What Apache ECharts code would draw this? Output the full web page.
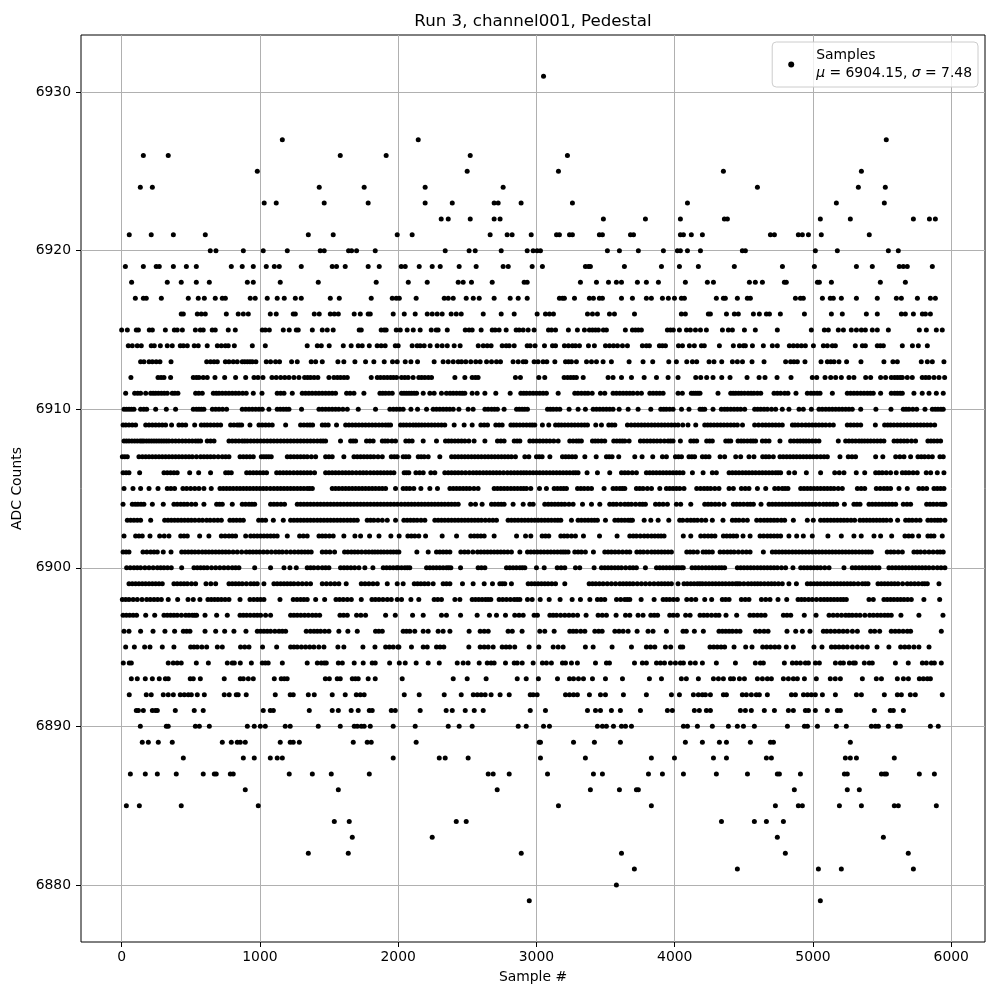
<!DOCTYPE html>
<html>
<head>
<meta charset="utf-8">
<title>Pedestal</title>
<script src="https://cdn.jsdelivr.net/npm/echarts@6/dist/echarts.min.js"></script>
<style>
    html, body { margin: 0; padding: 0; background: #fff; }
    #main { width: 1000px; height: 1000px; }
</style>
</head>
<body>
<div id="main"></div>
<script>
// sample numbers, one list per ADC level
const adc6931 = [3051];
const adc6927 = [1162,2145,5530];
const adc6926 = [157,337,1581,1913,2521,3224];
const adc6925 = [981,2499,3159,4352,5350];
const adc6924 = [135,222,1429,1754,2195,2759,4598,5328,5523];
const adc6923 = [1031,1118,1465,1783,2195,2391,2694,2723,2889,3260,4092,5169,5516];
const adc6922 = [2311,2362,2521,2694,2737,3484,3788,4041,4359,4381,5053,5270,5726,5842,5885];
const adc6921 = [55,214,374,605,1350,1530,1993,2101,2665,2788,2824,2962,3145,3166,3239,3260,3455,3477,3680,3702,4041,4063,4120,4200,4692,4721,4894,4923,4967,5060,5407];
const adc6920 = [641,682,880,1024,1198,1436,1465,1641,1663,1699,1834,2340,2513,2557,2745,2933,2976,3005,3029,3513,3600,3737,3918,4019,4041,4092,4186,4489,4511,5017,5176,5545,5617];
const adc6919 = [27,157,250,272,374,468,540,793,872,952,1046,1104,1140,1299,1523,1554,1617,1783,1863,2022,2051,2152,2246,2304,2441,2564,2759,2796,2969,3043,3354,3376,3390,3636,3904,4034,4171,4431,4779,5010,5314,5429,5624,5653,5682,5863];
const adc6918 = [72,330,431,540,634,909,952,1147,1422,1841,2073,2210,2434,2470,2530,2680,2911,2933,3318,3434,3521,3578,3615,3730,3795,3882,4077,4236,4280,4540,4583,4634,4793,4807,5032,5046,5133,5487,5668];
const adc6917 = [99,157,178,287,482,554,598,677,728,750,930,966,1053,1125,1176,1256,1299,1509,1574,1805,1957,1986,2008,2130,2333,2362,2398,2492,2543,2586,2694,2810,2868,2933,3166,3188,3202,3275,3383,3412,3455,3477,3615,3694,3795,3831,3911,3954,3998,4048,4070,4301,4352,4366,4453,4525,4547,4873,4909,4930,5068,5125,5147,5205,5314,5465,5603,5639,5755,5849,5885];
const adc6916 = [431,446,547,576,605,757,843,880,916,1075,1118,1241,1256,1393,1429,1509,1538,1567,1682,1726,1783,1798,1964,2044,2123,2210,2246,2282,2318,2383,2420,2456,2615,2745,2839,3005,3065,3094,3123,3369,3405,3441,3528,3564,3709,4048,4077,4243,4258,4374,4431,4460,4569,4612,4663,4685,4764,4938,5133,5212,5386,5465,5639,5668,5726,5791,5813,5849];
const adc6915 = [0,41,106,121,200,222,316,381,402,439,533,569,590,655,677,771,822,1017,1039,1068,1169,1212,1263,1277,1379,1451,1487,1530,1718,1733,1877,1899,1913,1986,2015,2065,2109,2159,2239,2275,2289,2355,2485,2513,2535,2600,2680,2701,2730,2781,2853,2875,2904,2940,2983,3087,3109,3138,3231,3296,3347,3383,3405,3427,3448,3484,3506,3643,3694,3716,3737,3759,3947,3969,3990,4034,4085,4113,4150,4186,4229,4345,4388,4417,4504,4583,4742,4988,5082,5111,5183,5220,5277,5314,5350,5379,5429,5465,5545,5769,5820,5892,5935];
const adc6914 = [48,77,113,142,214,236,280,330,366,424,446,475,525,554,619,692,721,750,771,815,945,1039,1342,1415,1444,1501,1603,1660,1711,1740,1791,1848,1877,1906,1979,2000,2101,2137,2159,2188,2231,2282,2318,2355,2405,2448,2579,2615,2644,2672,2752,2781,2803,2839,2933,2955,2990,3058,3116,3138,3202,3231,3260,3282,3311,3376,3419,3499,3528,3557,3586,3622,3658,3766,3795,3817,3889,3911,3933,4027,4056,4106,4142,4193,4214,4323,4424,4468,4497,4511,4562,4641,4706,4742,4829,4858,4887,4916,4945,5003,5075,5104,5140,5162,5306,5357,5379,5465,5487,5509,5646,5719,5762,5827];
const adc6913 = [137,161,198,222,250,277,357,615,643,668,692,750,776,807,836,872,890,909,928,945,971,1046,1077,1113,1142,1229,1270,1371,1403,1451,1564,1607,1687,1764,1824,1899,1959,1993,2051,2092,2140,2260,2325,2362,2398,2434,2458,2489,2525,2561,2593,2639,2675,2711,2740,2831,2868,2904,2923,2983,3012,3048,3075,3133,3210,3232,3253,3289,3362,3398,3434,3482,3542,3670,3771,3841,3957,4012,4087,4128,4159,4248,4284,4340,4417,4453,4490,4559,4646,4802,4838,4862,4887,4942,5058,5104,5128,5152,5188,5243,5347,5513,5578,5610,5783,5827,5863,5947];
const adc6912 = [67,263,285,306,354,518,540,559,590,619,675,745,824,897,957,986,1022,1087,1118,1150,1180,1210,1246,1282,1323,1345,1366,1392,1419,1499,1535,1560,1583,1608,1632,1805,1849,1872,1897,1921,1945,1966,1988,2024,2048,2072,2108,2149,2170,2193,2218,2241,2410,2482,2535,2558,2578,2848,2884,3017,3060,3200,3225,3248,3269,3289,3338,3518,3554,3615,3687,3779,3868,3952,4024,4152,4188,4231,4277,4340,4400,4523,4610,4653,4740,4841,4995,5027,5087,5128,5164,5205,5260,5296,5381,5417,5489,5525,5566,5590,5610,5630,5646,5682,5718,5790,5815,5839,5875,5911,5952];
const adc6911 = [29,94,116,137,174,210,228,246,266,287,308,330,366,385,407,535,558,583,663,684,704,728,752,776,800,824,848,875,901,952,1015,1125,1150,1174,1234,1306,1330,1354,1378,1403,1427,1451,1475,1499,1523,1547,1627,1652,1680,1752,1868,1888,1909,1933,1957,2024,2042,2060,2078,2096,2115,2133,2181,2229,2260,2313,2349,2375,2398,2422,2446,2464,2482,2535,2571,2627,2706,2810,2887,2908,2928,2952,2976,3000,3024,3048,3072,3157,3277,3300,3325,3350,3373,3403,3463,3494,3554,3578,3603,3627,3651,3675,3699,3730,3759,3820,3844,3868,3892,3916,4024,4055,4120,4136,4152,4168,4183,4313,4405,4423,4441,4462,4482,4505,4530,4552,4573,4598,4622,4718,4742,4766,4795,4819,4877,4959,4985,5007,5030,5051,5140,5248,5272,5296,5320,5345,5369,5393,5415,5436,5489,5566,5590,5610,5630,5646,5730,5790,5839,5892,5942];
const adc6910 = [17,35,53,71,89,137,160,181,246,323,390,518,540,559,577,595,656,680,704,730,759,872,897,921,945,969,993,1017,1065,1125,1147,1169,1190,1210,1301,1427,1451,1475,1499,1523,1547,1571,1600,1632,1711,1836,1940,1965,1988,2012,2036,2092,2140,2205,2253,2277,2301,2325,2349,2373,2398,2439,2506,2542,2627,2650,2675,2697,2718,2766,2856,2876,2896,2915,2935,3080,3100,3121,3145,3169,3236,3301,3354,3410,3434,3458,3482,3506,3530,3554,3598,3663,3735,3827,3899,3920,3940,3964,3988,4049,4103,4183,4200,4217,4277,4337,4360,4381,4405,4429,4453,4477,4506,4578,4600,4622,4646,4670,4700,4730,4778,4826,4899,4930,4988,5043,5067,5092,5116,5140,5164,5188,5212,5236,5260,5284,5345,5455,5564,5653,5673,5694,5722,5750,5810,5863,5884,5904,5925,5942];
const adc6909 = [10,30,53,77,101,174,198,222,246,270,294,318,361,414,438,463,528,576,598,619,643,668,692,716,788,812,836,852,868,928,993,1017,1041,1065,1089,1186,1294,1318,1342,1362,1381,1451,1472,1494,1554,1620,1644,1668,1692,1716,1740,1764,1788,1812,1836,1861,1885,1909,1928,1945,2017,2038,2060,2084,2108,2128,2149,2170,2193,2217,2241,2265,2289,2313,2337,2405,2477,2535,2598,2622,2646,2706,2730,2752,2815,2835,2856,2880,2904,2928,2952,2970,2988,3043,3089,3138,3160,3181,3205,3229,3253,3277,3301,3325,3348,3369,3429,3470,3523,3545,3567,3658,3685,3711,3735,3759,3783,3807,3832,3856,3880,3904,3928,3952,3976,4000,4024,4058,4096,4152,4217,4238,4260,4284,4308,4332,4356,4380,4405,4429,4453,4490,4578,4606,4634,4658,4682,4706,4730,4754,4778,4851,4870,4892,4920,4947,4971,4995,5019,5043,5067,5092,5120,5147,5248,5272,5296,5320,5345,5451,5518,5540,5561,5585,5610,5634,5658,5682,5706,5730,5754,5778,5802,5826,5851,5880];
const adc6908 = [17,35,53,74,94,113,133,147,161,180,198,216,234,252,270,288,306,324,342,366,390,414,439,463,487,511,535,553,571,619,643,668,776,800,824,848,872,890,909,933,957,981,1005,1029,1053,1077,1101,1125,1150,1174,1198,1222,1246,1270,1294,1318,1342,1366,1390,1415,1439,1457,1475,1583,1656,1674,1692,1771,1795,1819,1885,1905,1925,1955,1981,2055,2078,2101,2181,2277,2342,2364,2386,2410,2434,2458,2482,2511,2549,2627,2718,2742,2766,2839,2860,2880,2952,2976,3000,3024,3048,3072,3097,3125,3157,3241,3265,3289,3307,3325,3405,3425,3446,3470,3494,3559,3581,3603,3621,3639,3670,3752,3776,3800,3824,3848,3872,3897,3925,3952,3970,3988,4041,4116,4138,4159,4231,4252,4272,4369,4388,4405,4458,4480,4501,4525,4549,4567,4585,4634,4658,4682,4761,4838,4862,4887,4908,4930,4950,4971,4995,5019,5043,5183,5236,5260,5284,5308,5333,5353,5373,5395,5417,5441,5465,5489,5513,5586,5610,5634,5658,5682,5712,5742,5831,5853,5875,5899,5923];
const adc6907 = [5,23,41,125,150,174,198,222,246,270,294,318,342,366,390,414,438,463,487,511,541,571,595,619,643,668,698,728,752,776,856,880,904,928,952,1010,1028,1046,1064,1082,1198,1222,1246,1270,1294,1318,1342,1372,1403,1475,1499,1523,1607,1680,1704,1728,1752,1776,1800,1824,1854,1885,1950,1972,1993,2036,2056,2077,2145,2166,2188,2217,2301,2386,2410,2434,2458,2482,2506,2530,2554,2578,2602,2627,2651,2675,2699,2723,2747,2771,2795,2819,2848,2916,2945,3000,3020,3041,3097,3188,3211,3234,3258,3282,3350,3432,3506,3526,3547,3595,3711,3764,3841,3911,3940,4005,4027,4049,4103,4124,4144,4200,4224,4248,4328,4361,4441,4477,4537,4573,4636,4659,4682,4713,4761,4785,4810,4834,4858,4882,4906,4930,4954,4978,5002,5028,5055,5080,5104,5195,5255,5282,5308,5453,5505,5598,5628,5658,5706,5759,5783,5807,5835,5863,5918,5942];
const adc6906 = [10,32,53,130,306,330,354,378,402,492,557,643,752,772,793,904,928,952,976,1000,1024,1048,1121,1145,1169,1193,1217,1244,1270,1294,1318,1342,1366,1395,1475,1499,1523,1547,1571,1596,1620,1644,1668,1696,1723,1747,1771,1798,1824,1849,1873,1897,1921,1945,1969,2043,2060,2077,2128,2155,2181,2236,2265,2337,2362,2386,2410,2434,2460,2487,2515,2542,2566,2590,2615,2639,2663,2687,2711,2735,2762,2790,2815,2839,2863,2887,2908,2928,2952,2976,3000,3024,3048,3072,3097,3121,3145,3169,3193,3217,3241,3265,3283,3301,3366,3441,3530,3615,3639,3663,3693,3723,3795,3819,3843,3867,3892,3916,3940,3964,3988,4012,4036,4060,4128,4205,4272,4301,4393,4417,4441,4465,4490,4514,4537,4561,4585,4610,4634,4658,4682,4706,4730,4748,4766,4826,4867,4952,5055,5157,5190,5224,5313,5374,5453,5477,5501,5530,5561,5602,5646,5670,5694,5724,5754,5819,5851,5899,5947];
const adc6905 = [17,82,137,198,263,330,356,383,443,470,499,529,559,595,648,711,735,759,783,807,832,856,880,904,928,952,976,1000,1024,1048,1075,1101,1126,1150,1174,1198,1222,1246,1270,1294,1318,1342,1360,1379,1523,1547,1571,1596,1620,1644,1668,1692,1716,1740,1764,1788,1812,1836,1861,1885,1909,1981,2036,2060,2084,2113,2164,2229,2284,2374,2398,2422,2446,2470,2494,2518,2548,2578,2694,2718,2742,2766,2790,2815,2839,2863,2887,2908,2928,2959,3022,3072,3128,3152,3176,3197,3217,3297,3321,3345,3372,3398,3489,3554,3578,3603,3621,3639,3723,3747,3771,3802,3832,3892,3940,3964,3988,4012,4036,4067,4159,4186,4212,4236,4260,4290,4320,4393,4424,4482,4510,4537,4598,4658,4723,4750,4778,4798,4819,4911,4935,4959,4983,5007,5031,5055,5080,5104,5128,5152,5182,5212,5321,5348,5374,5458,5486,5513,5537,5561,5622,5682,5766,5794,5822,5875,5899,5923,5947];
const adc6904 = [10,77,98,118,140,161,222,301,378,402,427,451,475,505,535,595,687,708,728,800,872,896,921,942,962,1077,1101,1125,1152,1178,1270,1294,1318,1342,1366,1390,1415,1439,1463,1487,1511,1535,1559,1583,1607,1632,1656,1680,1704,1728,1752,1776,1800,1825,1849,1873,1897,1921,1945,1970,1995,2022,2048,2072,2096,2120,2145,2169,2193,2217,2241,2265,2289,2313,2337,2362,2386,2410,2434,2525,2559,2607,2675,2699,2723,2745,2766,2831,2904,2952,2976,3060,3085,3109,3133,3157,3181,3205,3235,3265,3333,3398,3458,3530,3555,3579,3609,3639,3663,3687,3717,3747,3768,3788,3861,3888,3916,3947,4012,4043,4116,4217,4241,4265,4292,4320,4356,4424,4448,4472,4498,4525,4547,4569,4624,4682,4706,4730,4754,4778,4802,4826,4850,4874,4898,4923,4947,4971,4995,5019,5047,5075,5099,5123,5147,5171,5227,5296,5318,5340,5405,5429,5453,5477,5501,5525,5549,5573,5598,5653,5680,5706,5822,5846,5870,5896,5923,5940,5954];
const adc6903 = [41,65,89,113,137,210,311,335,359,383,407,431,455,480,504,530,559,585,615,640,668,695,721,783,807,831,856,880,991,1016,1041,1097,1169,1222,1246,1270,1294,1318,1342,1366,1390,1415,1439,1463,1487,1511,1535,1559,1583,1607,1632,1656,1680,1704,1776,1800,1824,1854,1885,1921,1981,2041,2065,2089,2113,2137,2165,2193,2265,2289,2313,2337,2362,2386,2410,2434,2458,2482,2506,2530,2554,2578,2602,2630,2658,2685,2711,2795,2819,2843,2867,2892,2916,2940,2964,2988,3012,3036,3060,3084,3108,3133,3155,3176,3253,3301,3325,3350,3374,3398,3420,3441,3499,3567,3591,3615,3639,3663,3680,3694,3779,3827,3880,3957,4036,4058,4090,4116,4140,4164,4194,4224,4272,4349,4417,4441,4465,4495,4525,4593,4620,4646,4670,4694,4718,4742,4770,4795,4858,4959,5002,5055,5080,5104,5128,5152,5176,5200,5224,5248,5275,5301,5340,5364,5388,5412,5436,5460,5484,5508,5532,5561,5612,5670,5694,5718,5746,5774,5831,5855,5880,5902,5923,5954];
const adc6902 = [17,101,125,149,205,275,308,342,427,451,475,564,631,721,748,776,800,824,897,933,957,981,1005,1029,1053,1077,1101,1125,1198,1287,1314,1342,1427,1451,1475,1502,1530,1607,1687,1728,1793,1861,1947,2007,2070,2095,2120,2149,2198,2318,2422,2525,2550,2574,2598,2622,2694,2856,2921,2959,3041,3065,3089,3176,3200,3224,3253,3282,3340,3456,3583,3675,3700,3723,3751,3779,3805,3832,3856,3880,3901,3923,4062,4116,4188,4215,4241,4266,4291,4352,4376,4400,4424,4448,4494,4545,4617,4643,4670,4694,4718,4742,4766,4826,4882,4930,4995,5108,5205,5296,5349,5441,5489,5569,5665,5692,5718,5764,5831,5853,5875,5935];
const adc6901 = [10,32,53,154,182,210,234,258,301,357,434,458,482,506,530,556,583,607,631,655,680,704,728,752,776,806,836,868,901,926,950,974,998,1025,1053,1083,1113,1138,1162,1192,1222,1250,1277,1301,1325,1348,1371,1451,1478,1506,1540,1612,1636,1661,1685,1709,1736,1764,1788,1812,1832,1853,1875,1897,1921,1945,1966,1988,2005,2135,2217,2277,2301,2325,2349,2374,2453,2480,2506,2540,2574,2598,2622,2646,2670,2694,2718,2742,2766,2792,2819,2880,2935,2959,2983,3007,3031,3055,3080,3104,3128,3152,3176,3193,3210,3229,3277,3301,3325,3354,3412,3494,3518,3542,3568,3595,3623,3651,3675,3726,3750,3774,3803,3832,3856,3880,3904,3928,3952,3976,4087,4111,4135,4164,4205,4226,4248,4272,4328,4355,4381,4405,4429,4460,4490,4518,4545,4641,4706,4730,4754,4778,4802,4826,4851,4875,4899,4923,4947,4971,4995,5019,5043,5067,5092,5116,5140,5164,5188,5212,5236,5260,5284,5308,5333,5357,5381,5402,5422,5537,5562,5586,5616,5646,5730,5754,5778,5808,5839,5869,5899,5920,5942];
const adc6900 = [36,62,89,113,137,168,198,228,258,282,306,332,359,434,523,547,571,595,619,650,680,710,740,770,800,824,848,962,1077,1174,1217,1263,1342,1366,1390,1420,1451,1475,1499,1583,1608,1632,1658,1685,1716,1759,1817,1892,1916,1940,1964,1988,2000,2024,2048,2066,2084,2205,2229,2253,2277,2301,2325,2349,2365,2381,2451,2578,2602,2627,2783,2807,2831,2855,2880,2898,2916,3000,3056,3150,3178,3205,3282,3313,3417,3470,3494,3518,3542,3567,3591,3615,3645,3675,3699,3723,3788,3868,3892,3916,3940,3964,3988,4012,4030,4049,4062,4125,4149,4173,4198,4224,4248,4272,4296,4320,4340,4361,4453,4477,4501,4525,4549,4573,4598,4622,4646,4670,4694,4718,4742,4772,4802,4855,4911,4935,4959,4983,5007,5031,5055,5085,5116,5224,5284,5308,5333,5357,5381,5405,5429,5453,5477,5549,5573,5598,5622,5646,5670,5694,5718,5742,5766,5790,5814,5839,5869,5899,5926,5954];
const adc6899 = [53,77,101,125,149,173,198,222,246,270,294,378,402,427,451,475,505,535,610,645,680,776,800,824,848,872,902,933,957,981,1029,1101,1125,1150,1174,1198,1222,1246,1276,1306,1336,1366,1451,1481,1511,1541,1571,1624,1733,1760,1788,1818,1849,1921,1993,2036,2116,2140,2164,2190,2217,2253,2325,2349,2374,2465,2542,2622,2682,2735,2753,2771,2819,2940,2964,2988,3012,3036,3060,3084,3111,3138,3205,3381,3405,3429,3455,3482,3512,3542,3572,3603,3627,3651,3675,3699,3729,3759,3789,3820,3850,3880,3904,3928,3952,3976,4024,4067,4091,4116,4140,4164,4182,4200,4224,4248,4272,4296,4320,4344,4368,4393,4417,4441,4456,4472,4500,4530,4554,4578,4600,4622,4648,4675,4699,4723,4750,4778,4826,4880,4959,4983,5007,5031,5055,5080,5104,5128,5152,5176,5200,5224,5248,5272,5296,5326,5357,5378,5398,5470,5494,5518,5542,5566,5590,5615,5648,5682,5708,5735,5762,5790,5808,5827,5911];
const adc6898 = [5,29,53,83,113,147,181,207,234,260,287,337,405,480,518,566,624,648,672,696,721,748,776,856,928,955,981,1005,1029,1145,1241,1268,1294,1318,1342,1403,1468,1550,1576,1603,1632,1661,1733,1810,1835,1861,1890,1921,1950,1993,2024,2092,2149,2260,2286,2313,2410,2446,2535,2559,2583,2607,2631,2650,2670,2730,2756,2783,2811,2839,2860,2880,2935,2969,3027,3092,3171,3258,3318,3386,3441,3467,3494,3579,3609,3639,3657,3675,3757,3851,3916,3940,3964,3991,4019,4087,4120,4152,4217,4267,4344,4368,4393,4482,4510,4537,4627,4658,4689,4747,4810,4892,4916,4940,4968,4995,5025,5055,5080,5104,5128,5152,5176,5200,5220,5241,5405,5436,5513,5537,5561,5585,5610,5634,5658,5684,5711,5802,5916];
const adc6897 = [10,34,58,83,108,174,239,306,330,354,378,402,432,463,487,511,527,542,603,687,764,856,880,904,930,957,981,1005,1041,1077,1222,1246,1270,1296,1323,1350,1379,1405,1432,1579,1605,1632,1699,1730,1764,1909,1979,2104,2181,2313,2349,2451,2571,2660,2711,2776,2843,2874,2904,2983,3007,3097,3121,3145,3175,3205,3235,3265,3297,3359,3446,3476,3506,3576,3644,3675,3735,3771,3827,3852,3876,3964,3990,4019,4079,4111,4183,4210,4236,4266,4296,4320,4371,4448,4544,4571,4598,4625,4653,4786,4812,4839,4937,5022,5116,5146,5176,5206,5236,5260,5284,5312,5340,5375,5410,5437,5465,5491,5518,5542,5566,5636,5766,5940];
const adc6896 = [17,53,137,227,313,383,446,470,494,603,680,745,812,899,981,1005,1029,1053,1077,1108,1138,1162,1186,1335,1365,1391,1415,1439,1469,1499,1571,1636,1704,1836,1860,1885,2036,2060,2084,2120,2181,2217,2289,2325,2374,2513,2593,2622,2651,2795,2825,2896,3024,3060,3128,3241,3265,3289,3320,3350,3422,3450,3475,3567,3597,3627,3663,3728,3807,3843,3940,4060,4084,4142,4207,4320,4345,4369,4393,4417,4445,4472,4585,4615,4646,4675,4812,4875,4923,4978,5075,5100,5128,5158,5188,5218,5248,5285,5321,5417,5446,5482,5566,5594,5622,5652,5682,5706,5928];
const adc6895 = [29,92,166,205,294,378,499,523,547,580,615,692,728,860,890,921,1019,1121,1222,1246,1270,1300,1330,1360,1390,1426,1463,1564,1607,1745,1832,1909,1936,1964,1998,2005,2096,2181,2210,2277,2303,2330,2511,2593,2622,2651,2687,2752,2780,2807,2843,2947,3017,3121,3157,3193,3354,3410,3547,3687,3795,3825,3856,3933,3971,4041,4058,4255,4282,4308,4335,4361,4429,4513,4559,4636,4665,4694,4724,4754,4807,4858,5007,5065,5133,5160,5188,5218,5248,5285,5321,5357,5393,5463,5549,5634,5664,5694,5730,5766,5839];
const adc6894 = [12,55,70,337,373,402,431,540,627,764,800,815,858,938,1017,1039,1060,1162,1342,1415,1444,1465,1480,1567,1596,1682,1747,1812,1834,1938,2008,2051,2130,2217,2297,2427,2470,2506,2586,2644,2672,2694,2776,2839,2861,2897,2976,3043,3072,3108,3188,3210,3253,3296,3427,3506,3528,3709,3766,3795,3868,3897,3926,3969,4005,4041,4063,4113,4149,4200,4301,4439,4583,4619,4641,4793,4851,4880,4909,4945,4967,5017,5046,5162,5198,5220,5263,5292,5306,5371,5407,5429,5596,5689,5791,5820,5856,5878,5928];
const adc6893 = [70,113,171,222,272,316,337,496,518,569,742,858,880,916,952,1104,1154,1176,1197,1473,1502,1559,1581,1668,1690,1711,1783,1834,2029,2398,2499,2636,2861,2926,3014,3152,3239,3268,3304,3340,3405,3499,3622,3817,3904,4048,4084,4171,4280,4316,4352,4403,4425,4468,4504,4598,4634,4670,4699,4786,4822,4858,4887,4938,5024,5125,5161,5198,5357,5458,5495,5610,5654,5690,5769,5798,5827,5849];
const adc6892 = [55,178,214,301,337,374,424,453,482,504,547,598,742,778,829,843,901,1111,1219,1241,1350,1393,1523,1617,1697,1726,1754,2044,2152,2333,2456,2543,2572,2600,2629,2672,2737,2803,2955,2976,3005,3210,3239,3268,3296,3383,3463,3499,3629,3795,3976,4034,4135,4171,4200,4222,4258,4352,4374,4489,4518,4554,4590,4612,4670,4844,4873,4931,4960,4988,5017,5068,5162,5314,5350,5516,5610,5639,5704,5740,5935];
const adc6891 = [106,121,157,222,244,258,388,525,590,1024,1075,1097,1357,1523,1567,1660,1711,1791,1812,1950,1979,2159,2347,2391,2485,2550,2615,2955,3065,3369,3427,3463,3542,3607,3752,3947,3983,4142,4178,4229,4258,4475,4511,4554,4648,4721,4822,4858,4945,4967,5017,5104,5176,5198,5444,5559,5581,5654];
const adc6890 = [135,323,337,533,562,634,909,959,1003,1039,1183,1219,1422,1581,1682,1704,1733,1754,1798,1964,2123,2362,2441,2535,2868,2926,3051,3094,3441,3477,3506,3557,3615,3644,3687,4063,4092,4164,4272,4388,4453,4497,4576,4815,4938,4960,5032,5169,5241,5422,5451,5473,5545,5610,5632,5849,5906];
const adc6889 = [149,193,265,366,728,793,836,858,894,1147,1219,1241,1285,1675,1776,1805,2130,3020,3029,3268,3419,3607,4077,4200,4323,4374,4547,4692,4714,5270];
const adc6888 = [446,880,959,1075,1125,1162,1964,2297,2340,2506,3029,3354,3831,3998,4280,4374,4663,4699,5234,5270,5314,5588];
const adc6887 = [63,171,258,395,590,670,684,786,807,1212,1379,1516,1791,2651,2687,2803,3080,3412,3477,3810,3911,4063,4301,4526,4742,4757,4909,5227,5248,5495,5517,5531,5769,5878];
const adc6886 = [894,1567,2716,3390,3600,3723,3737,4865,5248,5335];
const adc6885 = [34,128,431,988,3159,3831,4728,4894,4923,5191,5350,5588,5617,5892];
const adc6884 = [1538,1646,2420,2492,4338,4576,4663,4786];
const adc6883 = [1668,2246,4742,5509];
const adc6882 = [1350,1639,2890,3615,4800,5689];
const adc6881 = [3708,4453,5039,5205,5726];
const adc6880 = [3578];
const adc6879 = [2948,5053];

const levels = [6879,6880,6881,6882,6883,6884,6885,6886,6887,6888,6889,6890,6891,6892,6893,6894,6895,6896,6897,6898,6899,6900,6901,6902,6903,6904,6905,6906,6907,6908,6909,6910,6911,6912,6913,6914,6915,6916,6917,6918,6919,6920,6921,6922,6923,6924,6925,6926,6927,6931];
const samplesByLevel = [adc6879,adc6880,adc6881,adc6882,adc6883,adc6884,adc6885,adc6886,adc6887,adc6888,adc6889,adc6890,adc6891,adc6892,adc6893,adc6894,adc6895,adc6896,adc6897,adc6898,adc6899,adc6900,adc6901,adc6902,adc6903,adc6904,adc6905,adc6906,adc6907,adc6908,adc6909,adc6910,adc6911,adc6912,adc6913,adc6914,adc6915,adc6916,adc6917,adc6918,adc6919,adc6920,adc6921,adc6922,adc6923,adc6924,adc6925,adc6926,adc6927,adc6931];

const xTicks = [0,1000,2000,3000,4000,5000,6000];
const yTicks = [6880,6890,6900,6910,6920,6930];

let points = [];
for (let i = 0; i < levels.length; i = i+1) {
    for (let j = 0; j < samplesByLevel[i].length; j = j+1) {
        points.push([samplesByLevel[i][j], levels[i]]);
    }
}

const fontName = "DejaVu Sans";
let myChart = echarts.init(document.getElementById("main"));

let option = {
    animation: false,
    textStyle: { fontFamily: fontName },
    title: {
        text: "Run 3, channel001, Pedestal",
        left: 533,
        textAlign: "center",
        top: 13,
        padding: 0,
        textStyle: { fontFamily: fontName, fontSize: 16.67, fontWeight: "normal", color: "#000" }
    },
    grid: { left: 81, right: 15, top: 35, bottom: 58, show: true, borderColor: "#000", borderWidth: 1 },
    legend: {
        right: 22,
        top: 42,
        orient: "vertical",
        data: ["Samples"],
        icon: "circle",
        itemWidth: 6,
        itemHeight: 6,
        itemGap: 0,
        padding: [4, 6, 4, 16],
        backgroundColor: "rgba(255,255,255,0.8)",
        borderColor: "#ccc",
        borderWidth: 1,
        borderRadius: 4,
        itemStyle: { opacity: 1 },
        formatter: function () {
            return "Samples\n{i|μ} = 6904.15, {i|σ} = 7.48";
        },
        textStyle: {
            fontFamily: fontName,
            fontSize: 13.9,
            color: "#000",
            lineHeight: 18.5,
            padding: [0, 0, 0, 17],
            rich: { i: { fontStyle: "italic", fontFamily: fontName, fontSize: 13.9, color: "#000" } }
        }
    },
    xAxis: {
        type: "value",
        min: -294,
        max: 6244,
        name: "Sample #",
        nameLocation: "center",
        nameGap: 28,
        nameTextStyle: { fontFamily: fontName, fontSize: 13.9, color: "#000" },
        axisLine: { show: false, onZero: false },
        axisTick: { show: true, length: 5, customValues: xTicks, lineStyle: { color: "#000" } },
        axisLabel: { customValues: xTicks, formatter: function (v) { return String(v); }, fontFamily: fontName, fontSize: 13.9, color: "#000", margin: 8 },
        splitLine: { show: true, lineStyle: { color: "#b0b0b0", width: 1 } }
    },
    yAxis: {
        type: "value",
        min: 6876.4,
        max: 6933.6,
        name: "ADC Counts",
        nameLocation: "center",
        nameGap: 54,
        nameTextStyle: { fontFamily: fontName, fontSize: 13.9, color: "#000" },
        axisLine: { show: false, onZero: false },
        axisTick: { show: true, length: 5, customValues: yTicks, lineStyle: { color: "#000" } },
        axisLabel: { customValues: yTicks, formatter: function (v) { return String(v); }, fontFamily: fontName, fontSize: 13.9, color: "#000", margin: 10 },
        splitLine: { show: true, lineStyle: { color: "#b0b0b0", width: 1 } }
    },
    series: [
        {
            name: "Samples",
            type: "scatter",
            data: points,
            symbol: "circle",
            symbolSize: 5,
            itemStyle: { color: "#000", opacity: 1 }
        }
    ]
};

myChart.setOption(option);
</script>
</body>
</html>
